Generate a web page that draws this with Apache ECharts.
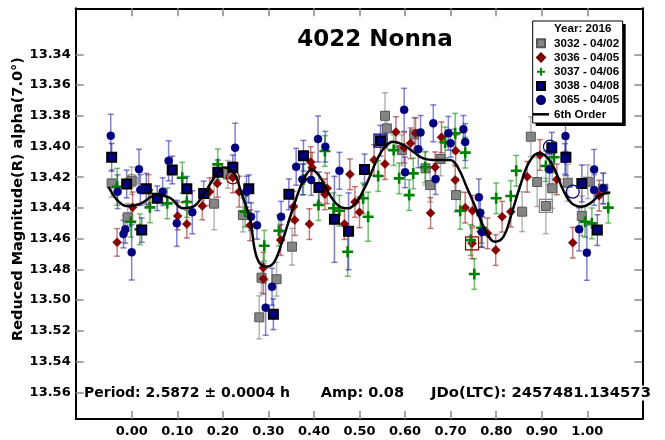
<!DOCTYPE html>
<html><head><meta charset="utf-8">
<script src="https://cdn.jsdelivr.net/npm/echarts@6/dist/echarts.min.js"></script>
<style>html,body{margin:0;padding:0;background:#fff}#c{width:665px;height:440px}</style>
</head><body><div id="c"></div>
<script>
const chartTitle = '4022 Nonna';
const yName = 'Reduced Magnitude(R) alpha(7.0°)';
const legendTitle = 'Year: 2016';
const infoPeriod = 'Period: 2.5872 ± 0.0004 h';
const infoAmp = 'Amp: 0.08';
const infoJD = 'JDo(LTC): 2457481.134573';
const xTicks = [0.00, 0.10, 0.20, 0.30, 0.40, 0.50, 0.60, 0.70, 0.80, 0.90, 1.00];
const yTicks = [13.34, 13.36, 13.38, 13.40, 13.42, 13.44, 13.46, 13.48, 13.50, 13.52, 13.54, 13.56];
const names = ['3032 - 04/02', '3036 - 04/05', '3037 - 04/06', '3038 - 04/08', '3065 - 04/05', '6th Order'];

// [phase, reduced mag, error]
const s3032 = [
[-0.044,13.4240,0.009],[0.000,13.4223,0.009],[-0.009,13.4461,0.009],[0.181,13.4372,0.017],
[0.211,13.4181,0.009],[0.244,13.4446,0.011],[0.285,13.4854,0.010],[0.318,13.4864,0.011],
[0.280,13.5112,0.014],[0.352,13.4652,0.012],[0.556,13.3800,0.015],[0.560,13.3882,0.011],
[0.593,13.4023,0.010],[0.620,13.3921,0.011],[0.645,13.4142,0.011],[0.655,13.4251,0.011],
[0.678,13.4081,0.011],[0.712,13.4316,0.011],[0.857,13.4424,0.013],[0.876,13.3936,0.013],
[0.890,13.4231,0.016],[0.909,13.4387,0.018],[0.923,13.4272,0.013],[0.957,13.4236,0.012],
[0.988,13.4452,0.013],[1.001,13.4229,0.011],[1.035,13.4275,0.010]
];
const s3036 = [
[-0.032,13.4624,0.009],[0.002,13.4396,0.010],[0.037,13.4283,0.010],[0.101,13.4452,0.009],
[0.121,13.4505,0.009],[0.155,13.4387,0.009],[0.171,13.4294,0.009],[0.188,13.4240,0.009],
[0.222,13.4201,0.010],[0.236,13.4294,0.010],[0.260,13.4513,0.010],[0.289,13.4789,0.010],
[0.289,13.4861,0.010],[0.327,13.4609,0.010],[0.355,13.4392,0.010],[0.358,13.4479,0.010],
[0.390,13.4505,0.010],[0.393,13.4101,0.010],[0.396,13.4138,0.010],[0.424,13.4311,0.010],
[0.429,13.4272,0.010],[0.467,13.4505,0.010],[0.479,13.4181,0.010],[0.490,13.4361,0.010],
[0.500,13.4428,0.010],[0.532,13.4088,0.010],[0.556,13.4114,0.010],[0.580,13.3906,0.010],
[0.598,13.4008,0.010],[0.612,13.3979,0.010],[0.623,13.3914,0.010],[0.656,13.4433,0.010],
[0.666,13.4135,0.010],[0.680,13.3940,0.010],[0.710,13.4218,0.010],[0.711,13.4027,0.010],
[0.732,13.4398,0.010],[0.748,13.4418,0.010],[0.747,13.4630,0.010],[0.767,13.4555,0.010],
[0.781,13.4565,0.010],[0.799,13.4674,0.010],[0.813,13.4457,0.010],[0.832,13.4424,0.010],
[0.868,13.4197,0.010],[0.896,13.4055,0.010],[0.933,13.4214,0.010],[0.968,13.4626,0.010],
[1.026,13.4320,0.010]
];
const s3037 = [
[-0.032,13.4262,0.012],[-0.002,13.4490,0.010],[0.018,13.4539,0.010],[0.040,13.4396,0.010],
[0.078,13.4370,0.010],[0.111,13.4203,0.010],[0.121,13.4361,0.010],[0.189,13.4116,0.010],
[0.249,13.4424,0.010],[0.291,13.4646,0.010],[0.323,13.4548,0.010],[0.377,13.4214,0.010],
[0.410,13.4381,0.010],[0.424,13.4029,0.010],[0.443,13.4402,0.010],[0.456,13.4418,0.010],
[0.474,13.4685,0.016],[0.508,13.4337,0.010],[0.519,13.4457,0.016],[0.541,13.4192,0.010],
[0.575,13.4023,0.010],[0.587,13.4207,0.010],[0.609,13.4316,0.010],[0.618,13.4175,0.010],
[0.644,13.4135,0.010],[0.688,13.3973,0.010],[0.710,13.3914,0.013],[0.732,13.4040,0.010],
[0.721,13.4418,0.012],[0.744,13.4609,0.010],[0.752,13.4830,0.010],[0.768,13.4529,0.010],
[0.800,13.4337,0.010],[0.832,13.4322,0.010],[0.844,13.4158,0.010],[0.909,13.4127,0.010],
[0.927,13.4070,0.010],[0.995,13.4490,0.010],[1.010,13.4500,0.010],[1.046,13.4398,0.010]
];
const s3038 = [
[-0.044,13.4070,0.009],[-0.011,13.4244,0.009],[0.022,13.4544,0.008],[0.032,13.4275,0.010],
[0.056,13.4337,0.008],[0.089,13.4153,0.009],[0.121,13.4275,0.008],[0.158,13.4305,0.008],
[0.189,13.4168,0.008],[0.222,13.4135,0.008],[0.257,13.4275,0.009],[0.311,13.5092,0.010],
[0.345,13.4311,0.010],[0.377,13.4060,0.010],[0.411,13.4266,0.010],[0.445,13.4474,0.028],
[0.476,13.4552,0.025],[0.511,13.4149,0.010],[0.546,13.3962,0.010],[0.922,13.4008,0.010],
[0.953,13.4070,0.012],[0.988,13.4240,0.012],[1.022,13.4544,0.010]
];
const s3065 = [
[-0.046,13.3930,0.014],[-0.031,13.4294,0.011],[-0.018,13.4570,0.009],[-0.014,13.4539,0.009],
[0.000,13.4689,0.018],[0.016,13.4148,0.013],[0.019,13.4283,0.010],[0.081,13.4093,0.013],
[0.068,13.4294,0.009],[0.099,13.4500,0.015],[0.133,13.4428,0.014],[0.227,13.4008,0.016],
[0.252,13.4294,0.010],[0.262,13.4457,0.009],[0.275,13.4513,0.009],[0.328,13.4457,0.010],
[0.308,13.4913,0.012],[0.294,13.5049,0.018],[0.361,13.4132,0.012],[0.375,13.4214,0.010],
[0.394,13.4218,0.010],[0.409,13.3951,0.015],[0.425,13.4001,0.010],[0.456,13.4158,0.012],
[0.598,13.3761,0.014],[0.629,13.4018,0.012],[0.600,13.4168,0.010],[0.634,13.3908,0.011],
[0.662,13.3849,0.012],[0.667,13.4212,0.010],[0.695,13.3914,0.011],[0.700,13.3979,0.009],
[0.728,13.3888,0.009],[0.732,13.3971,0.012],[0.762,13.4331,0.012],[0.765,13.4431,0.010],
[0.769,13.4557,0.010],[0.952,13.3932,0.010],[0.951,13.4081,0.010],[0.917,13.4149,0.010],
[0.982,13.4539,0.014],[0.999,13.4691,0.018],[1.015,13.4149,0.013],[1.015,13.4283,0.010],
[1.035,13.4272,0.010]
];
// excluded points drawn as open rings: [phase, mag, ring shape]
const ring3032 = [[0.000,13.4223,'circle'],[0.909,13.4387,'rect']];
const ring3036 = [[0.222,13.4201,'circle'],[0.747,13.4630,'rect']];
const ring3038 = [[0.546,13.3962,'rect']];
const ring3065 = [[0.918,13.4001,'circle'],[0.968,13.4294,'circle']];
// 6th order Fourier fit
const fit6 = [
[-0.051,13.4262],[-0.032,13.4348],[-0.011,13.4387],[0.018,13.4374],[0.055,13.4316],[0.084,13.4335],
[0.113,13.4402],[0.135,13.4392],[0.157,13.4316],[0.187,13.4175],[0.201,13.4136],[0.223,13.4164],
[0.241,13.4305],[0.260,13.4478],[0.274,13.4717],[0.293,13.4782],[0.311,13.4760],[0.329,13.4630],
[0.355,13.4392],[0.377,13.4218],[0.395,13.4149],[0.413,13.4197],[0.435,13.4316],[0.457,13.4392],
[0.475,13.4402],[0.494,13.4359],[0.516,13.4240],[0.538,13.4088],[0.556,13.4001],[0.574,13.3969],
[0.596,13.3990],[0.618,13.4034],[0.640,13.4077],[0.669,13.4088],[0.699,13.4088],[0.717,13.4142],
[0.735,13.4262],[0.757,13.4413],[0.776,13.4544],[0.797,13.4620],[0.816,13.4587],[0.834,13.4435],
[0.852,13.4262],[0.871,13.4109],[0.893,13.4044],[0.911,13.4067],[0.929,13.4153],[0.947,13.4283],
[0.966,13.4370],[0.988,13.4392],[1.006,13.4370],[1.028,13.4316],[1.050,13.4301]
];

const plusPath = 'path://M3.8,0H6.2V3.8H10V6.2H6.2V10H3.8V6.2H0V3.8H3.8Z';
const cfg = [
  {data:s3032, ring:ring3032, name:names[0], symbol:'rect', size:9, color:'#858585', border:'#555', bw:1, err:'rgba(110,110,110,0.5)', legendIcon:'path://M0,0H8V8H0Z'},
  {data:s3036, ring:ring3036, name:names[1], symbol:'diamond', size:9, color:'#8b0000', border:'#6a0000', bw:0.5, err:'rgba(150,20,20,0.55)', legendIcon:'path://M4,0L8,4L4,8L0,4Z'},
  {data:s3037, ring:[], name:names[2], symbol:plusPath, size:11, color:'#008000', border:'#008000', bw:0, err:'rgba(0,140,0,0.55)', legendIcon:plusPath},
  {data:s3038, ring:ring3038, name:names[3], symbol:'rect', size:9, color:'#000080', border:'#000', bw:2, err:'rgba(20,20,150,0.55)', legendIcon:'path://M0,0H8V8H0Z'},
  {data:s3065, ring:ring3065, name:names[4], symbol:'circle', size:8, color:'#000080', border:'#000060', bw:0.5, err:'rgba(30,30,170,0.55)', legendIcon:'circle'}
];

function errRender(color){
  return function(params, api){
    const x = api.value(0), y = api.value(1), e = api.value(2);
    const p0 = api.coord([x, y - e]), p1 = api.coord([x, y + e]);
    const st = {stroke: color, lineWidth: 1.5};
    return {type:'group', children:[
      {type:'line', shape:{x1:p0[0], y1:p0[1], x2:p1[0], y2:p1[1]}, style:st},
      {type:'line', shape:{x1:p0[0]-3, y1:p0[1], x2:p0[0]+3, y2:p0[1]}, style:st},
      {type:'line', shape:{x1:p1[0]-3, y1:p1[1], x2:p1[0]+3, y2:p1[1]}, style:st}
    ]};
  };
}

const series = [];
cfg.forEach(c => {
  series.push({type:'custom', name:'err ' + c.name, data:c.data, renderItem:errRender(c.err),
    encode:{x:0, y:1}, z:1, silent:true});
});
cfg.forEach(c => {
  series.push({type:'scatter', name:c.name, data:c.data.map(d => [d[0], d[1]]), symbol:c.symbol,
    symbolSize:c.size, encode:{x:0, y:1}, z:3,
    itemStyle:{color:c.color, borderColor:c.border, borderWidth:c.bw, opacity:1}});
  if (c.ring.length) {
    series.push({type:'scatter', name:'ring ' + c.name, z:3,
      data:c.ring.map(r => ({value:[r[0], r[1]], symbol:r[2]})), symbolSize:13,
      itemStyle:{color:'rgba(255,255,255,0)', borderColor:c.color, borderWidth:1.2, opacity:1}});
  }
});
series.push({type:'line', name:names[5], data:fit6, smooth:0.4, showSymbol:false, symbol:'none', z:4,
  lineStyle:{color:'#000', width:2.5}, itemStyle:{color:'#000'}});

const tickFont = {fontFamily:'DejaVu Sans', fontWeight:'bold', fontSize:13, color:'#000'};
const chart = echarts.init(document.getElementById('c'), null, {renderer:'canvas'});
chart.setOption({
  animation:false,
  backgroundColor:'#fff',
  grid:{left:75.7, top:8.3, right:22.7, bottom:21, containLabel:false, outerBoundsMode:'none'},
  xAxis:[
    {type:'value', min:-0.1229, max:1.1207, position:'bottom',
      axisLine:{show:true, onZero:false, lineStyle:{color:'#000', width:2}},
      axisTick:{show:true, inside:true, length:8, customValues:xTicks, lineStyle:{color:'#888', width:1.5}},
      axisLabel:{show:true, customValues:xTicks, margin:6, formatter:v => v.toFixed(2), ...tickFont},
      splitLine:{show:false}},
    {type:'value', min:-0.1229, max:1.1207, position:'top',
      axisLine:{show:true, onZero:false, lineStyle:{color:'#000', width:2}},
      axisTick:{show:true, inside:true, length:8, customValues:xTicks, lineStyle:{color:'#888', width:1.5}},
      axisLabel:{show:false}, splitLine:{show:false}}
  ],
  yAxis:[
    {type:'value', inverse:true, min:13.31, max:13.5774, position:'left',
      axisLine:{show:true, onZero:false, lineStyle:{color:'#000', width:2}},
      axisTick:{show:true, inside:true, length:8, customValues:yTicks, lineStyle:{color:'#888', width:1.5}},
      axisLabel:{show:true, customValues:yTicks, margin:5, formatter:v => v.toFixed(2), ...tickFont},
      splitLine:{show:false}},
    {type:'value', inverse:true, min:13.31, max:13.5774, position:'right',
      axisLine:{show:true, onZero:false, lineStyle:{color:'#000', width:2}},
      axisTick:{show:true, inside:true, length:8, customValues:yTicks, lineStyle:{color:'#888', width:1.5}},
      axisLabel:{show:false}, splitLine:{show:false}}
  ],
  legend:{
    orient:'vertical', left:533, top:36.3, padding:0, itemGap:0.2, itemWidth:16, itemHeight:8,
    selectedMode:false, z:10,
    textStyle:{fontFamily:'Liberation Sans', fontWeight:'bold', fontSize:11.6, color:'#000', lineHeight:14},
    data:[
      {name:names[0], icon:cfg[0].legendIcon},
      {name:names[1], icon:cfg[1].legendIcon},
      {name:names[2], icon:cfg[2].legendIcon},
      {name:names[3], icon:cfg[3].legendIcon},
      {name:names[4], icon:cfg[4].legendIcon},
      {name:names[5], icon:'path://M0,0H16V2.5H0Z'}
    ]
  },
  graphic:[
    {type:'rect', z:8, shape:{x:535.7, y:24, width:90, height:102}, style:{fill:'#000'}},
    {type:'rect', z:9, shape:{x:532.7, y:21, width:90, height:102}, style:{fill:'#fff', stroke:'#000', lineWidth:1}},
    {type:'text', z:11, x:554, y:29, style:{text:legendTitle, font:'bold 11.6px "Liberation Sans"', fill:'#000', textAlign:'left', textVerticalAlign:'middle'}},
    {type:'text', z:11, x:375, y:40, style:{text:chartTitle, font:'bold 23px "DejaVu Sans"', fill:'#000', textAlign:'center', textVerticalAlign:'middle'}},
    {type:'text', z:11, x:18, y:199, rotation:Math.PI/2, style:{text:yName, font:'bold 14.5px "DejaVu Sans"', fill:'#000', textAlign:'center', textVerticalAlign:'middle'}},
    {type:'text', z:11, x:84, y:393, style:{text:infoPeriod, font:'bold 14px "DejaVu Sans"', fill:'#000', textAlign:'left', textVerticalAlign:'middle'}},
    {type:'text', z:11, x:320.7, y:393, style:{text:infoAmp, font:'bold 14.5px "DejaVu Sans"', fill:'#000', textAlign:'left', textVerticalAlign:'middle'}},
    {type:'text', z:11, x:431, y:393, style:{text:infoJD, font:'bold 14.8px "DejaVu Sans"', fill:'#000', textAlign:'left', textVerticalAlign:'middle', backgroundColor:'#fff'}}
  ],
  series:series
});
</script></body></html>
